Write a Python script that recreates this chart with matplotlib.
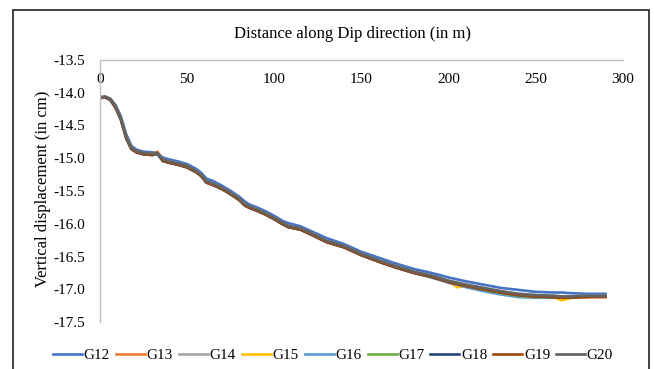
import matplotlib
matplotlib.use("Agg")
from matplotlib import pyplot as plt
from matplotlib.patches import Rectangle

plt.rcParams['font.family'] = ['Liberation Serif', 'DejaVu Serif']

# distance along dip direction (m)
x = [0, 3, 6, 9, 12, 15, 18, 21, 25, 30, 33, 36, 40, 45, 50, 55, 58, 61, 65, 70,
     75, 80, 83, 86, 90, 95, 100, 105, 108, 115, 120, 130, 140, 150, 160, 170, 180, 190, 200, 205,
     210, 220, 230, 240, 250, 260, 265, 270, 280, 290]

# vertical displacement (cm)
G12 = [-14.07, -14.06, -14.09, -14.19, -14.36, -14.63, -14.81, -14.87, -14.90, -14.91,
       -14.92, -14.99, -15.02, -15.05, -15.09, -15.16, -15.22, -15.31, -15.35, -15.42,
       -15.50, -15.59, -15.66, -15.71, -15.75, -15.81, -15.88, -15.96, -15.99, -16.04,
       -16.10, -16.22, -16.31, -16.43, -16.52, -16.61, -16.69, -16.75, -16.82, -16.85,
       -16.88, -16.93, -16.98, -17.01, -17.04, -17.05, -17.05, -17.06, -17.07, -17.07]
G13 = [-14.08, -14.07, -14.11, -14.23, -14.41, -14.69, -14.86, -14.91, -14.93, -14.93,
       -14.90, -15.04, -15.07, -15.10, -15.14, -15.21, -15.27, -15.37, -15.41, -15.47,
       -15.55, -15.64, -15.72, -15.76, -15.80, -15.86, -15.93, -16.01, -16.05, -16.09,
       -16.15, -16.28, -16.36, -16.48, -16.58, -16.67, -16.75, -16.81, -16.89, -16.92,
       -16.95, -17.00, -17.05, -17.09, -17.11, -17.12, -17.13, -17.13, -17.12, -17.11]
G14 = [-14.07, -14.06, -14.10, -14.21, -14.39, -14.67, -14.84, -14.89, -14.92, -14.93,
       -14.92, -15.02, -15.05, -15.08, -15.12, -15.19, -15.25, -15.35, -15.39, -15.45,
       -15.53, -15.62, -15.70, -15.74, -15.78, -15.84, -15.91, -15.99, -16.03, -16.07,
       -16.13, -16.26, -16.34, -16.46, -16.56, -16.65, -16.73, -16.79, -16.87, -16.90,
       -16.93, -16.98, -17.03, -17.07, -17.09, -17.10, -17.11, -17.11, -17.10, -17.10]
G15 = [-14.07, -14.06, -14.10, -14.22, -14.40, -14.68, -14.85, -14.90, -14.93, -14.94,
       -14.93, -15.03, -15.06, -15.09, -15.13, -15.20, -15.26, -15.36, -15.40, -15.46,
       -15.54, -15.63, -15.71, -15.75, -15.79, -15.85, -15.92, -16.00, -16.04, -16.08,
       -16.14, -16.27, -16.35, -16.47, -16.57, -16.66, -16.74, -16.80, -16.89, -16.97,
       -16.95, -17.00, -17.05, -17.09, -17.11, -17.12, -17.17, -17.13, -17.11, -17.11]
G16 = [-14.08, -14.07, -14.11, -14.23, -14.41, -14.69, -14.86, -14.91, -14.94, -14.95,
       -14.94, -15.04, -15.07, -15.10, -15.14, -15.21, -15.27, -15.37, -15.41, -15.47,
       -15.55, -15.64, -15.72, -15.76, -15.80, -15.86, -15.93, -16.01, -16.05, -16.09,
       -16.15, -16.28, -16.36, -16.48, -16.58, -16.67, -16.75, -16.82, -16.90, -16.93,
       -16.97, -17.03, -17.08, -17.12, -17.13, -17.13, -17.13, -17.12, -17.11, -17.11]
G17 = [-14.07, -14.06, -14.10, -14.22, -14.40, -14.68, -14.85, -14.90, -14.93, -14.94,
       -14.93, -15.03, -15.06, -15.09, -15.13, -15.20, -15.26, -15.36, -15.40, -15.46,
       -15.54, -15.63, -15.71, -15.75, -15.79, -15.85, -15.92, -16.00, -16.04, -16.08,
       -16.14, -16.27, -16.35, -16.47, -16.57, -16.66, -16.74, -16.80, -16.88, -16.92,
       -16.95, -17.01, -17.06, -17.10, -17.12, -17.12, -17.12, -17.12, -17.11, -17.11]
G18 = [-14.08, -14.07, -14.11, -14.23, -14.41, -14.69, -14.86, -14.91, -14.94, -14.95,
       -14.93, -15.04, -15.07, -15.10, -15.14, -15.21, -15.27, -15.37, -15.41, -15.47,
       -15.55, -15.64, -15.72, -15.76, -15.80, -15.86, -15.93, -16.01, -16.05, -16.09,
       -16.15, -16.28, -16.36, -16.48, -16.58, -16.67, -16.75, -16.81, -16.89, -16.92,
       -16.95, -17.00, -17.05, -17.09, -17.11, -17.12, -17.12, -17.12, -17.11, -17.11]
G19 = [-14.08, -14.07, -14.11, -14.23, -14.41, -14.69, -14.86, -14.91, -14.94, -14.95,
       -14.92, -15.04, -15.07, -15.10, -15.14, -15.21, -15.27, -15.37, -15.41, -15.47,
       -15.55, -15.64, -15.72, -15.76, -15.80, -15.86, -15.93, -16.01, -16.05, -16.09,
       -16.15, -16.28, -16.36, -16.48, -16.58, -16.67, -16.75, -16.81, -16.89, -16.92,
       -16.95, -17.00, -17.05, -17.09, -17.11, -17.12, -17.13, -17.13, -17.12, -17.12]
G20 = [-14.07, -14.06, -14.10, -14.21, -14.39, -14.67, -14.84, -14.89, -14.92, -14.93,
       -14.92, -15.02, -15.05, -15.08, -15.12, -15.19, -15.25, -15.35, -15.39, -15.45,
       -15.53, -15.62, -15.70, -15.74, -15.78, -15.84, -15.91, -15.99, -16.03, -16.07,
       -16.13, -16.26, -16.34, -16.46, -16.56, -16.65, -16.73, -16.79, -16.87, -16.90,
       -16.93, -16.98, -17.03, -17.07, -17.09, -17.10, -17.11, -17.11, -17.10, -17.10]

names = ["G12", "G13", "G14", "G15", "G16", "G17", "G18", "G19", "G20"]
series = [G12, G13, G14, G15, G16, G17, G18, G19, G20]
colors = ["#4472C4", "#ED7D31", "#A5A5A5", "#FFC000", "#5B9BD5",
          "#70AD47", "#264478", "#9E480E", "#636363"]

xticks = [0, 50, 100, 150, 200, 250, 300]
yticks = [-13.5, -14.0, -14.5, -15.0, -15.5, -16.0, -16.5, -17.0, -17.5]
ytick_labels = ["-13.5", "-14.0", "-14.5", "-15.0", "-15.5", "-16.0", "-16.5", "-17.0", "-17.5"]

fig = plt.figure(figsize=(6.54, 3.69), dpi=100)
ax = fig.add_axes([100/654, 1-322/369, 523/654, 262/369])

for name, y, c in zip(names, series, colors):
    ax.plot(x, y, color=c, lw=1.9, label=name, solid_joinstyle='round')

ax.set_xlim(0, 300)
ax.set_ylim(-17.5, -13.5)
ax.set_xticks(xticks)
ax.set_yticks(yticks)
ax.set_yticklabels(ytick_labels)

# x axis sits on top, labels just under it
ax.xaxis.set_ticks_position('top')
ax.tick_params(axis='x', length=0, labelsize=11, pad=-19)
ax.tick_params(axis='y', length=0, labelsize=11, pad=11)

for s in ['right', 'bottom']:
    ax.spines[s].set_visible(False)
for s in ['top', 'left']:
    ax.spines[s].set_color('#BFBFBF')
    ax.spines[s].set_linewidth(1)

fig.text(353/654, 1-34/369, "Distance along Dip direction (in m)",
         ha='center', va='center', fontsize=12)
fig.text(43/654, 1-189/369, "Vertical displacement (in cm)",
         ha='center', va='center', rotation=90, fontsize=12)

fig.legend(loc='center', bbox_to_anchor=(333/654, 1-355/369), ncol=9,
           frameon=False, fontsize=11, handlelength=1.9, handletextpad=0.1,
           columnspacing=0.4)

# outer frame
fig.patches.append(Rectangle((13/654, -0.05), 636/654, 1.05-10/369,
                             transform=fig.transFigure, fill=False,
                             edgecolor='#222222', lw=1.2))

plt.savefig("out.png", dpi=100)
